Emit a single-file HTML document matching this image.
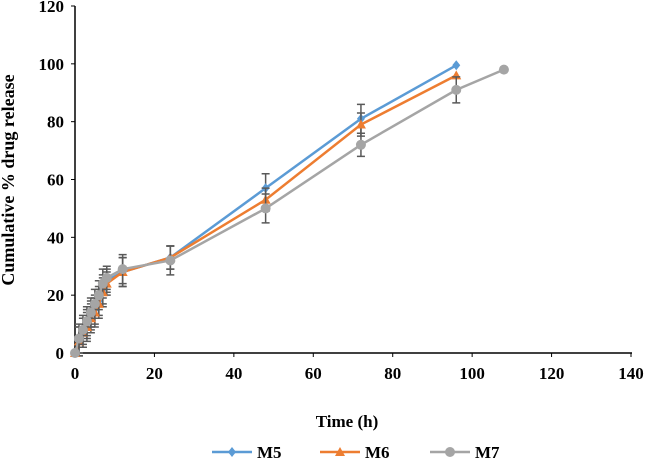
<!DOCTYPE html>
<html><head><meta charset="utf-8"><style>
body{margin:0;background:#fff}
svg text{font-family:"Liberation Serif",serif;font-weight:bold;fill:#000}
</style></head><body>
<svg id="chart" width="645" height="459" xmlns="http://www.w3.org/2000/svg"></svg>
<script>
const times5 = [0,1,2,3,4,5,6,7,8,12,24,48,72,96];
const m5 = [0,4,7,10,13,15,18,22,25,28,33,57,81,99.5];
const err5 = [0,5,5,5,5,5,5,5,4,5,4,5,5,0];
const m6 = [0,4,7,9,12,14,17,21,24,28,33,53,79,96];
const err6 = [0,5,5,5,5,5,5,5,4,5,4,4,4,0];
const times7 = [0,1,2,3,4,5,6,7,8,12,24,48,72,96,108];
const m7 = [0,5,8,11,14,17,20,24,26,29,32,50,72,91,98];
const err7 = [0,5,5,5,5,5,5,5,4,5,5,5,4,4.5,0];
const xTicks = [0,20,40,60,80,100,120,140];
const yTicks = [0,20,40,60,80,100,120];

const NS="http://www.w3.org/2000/svg";
const svg=document.getElementById('chart');
const X=v=>75+v*(631-75)/140;
const Y=v=>353-v*(353-6)/120;
function mk(t,a,p){const e=document.createElementNS(NS,t);for(const k in a)e.setAttribute(k,a[k]);(p||svg).appendChild(e);return e;}

let ax=mk('line',{x1:75,y1:6,x2:75,y2:354,stroke:'#000','stroke-width':1.5});


ax=mk('line',{x1:74,y1:353,x2:632,y2:353,stroke:'#000','stroke-width':1.5});


yTicks.forEach(v=>{
  mk('line',{x1:71,y1:Y(v),x2:75,y2:Y(v),stroke:'#000'});
  const t=mk('text',{x:64,y:Y(v)+6,'text-anchor':'end','font-size':17});t.textContent=v;
  
  
});
xTicks.forEach(v=>{
  mk('line',{x1:X(v),y1:353,x2:X(v),y2:357,stroke:'#000'});
  const t=mk('text',{x:X(v),y:379,'text-anchor':'middle','font-size':17});t.textContent=v;
  
  
});
let tt=mk('text',{x:0,y:0,'text-anchor':'middle','font-size':18,transform:'translate(14,180) rotate(-90)'});tt.textContent='Cumulative % drug release';


tt=mk('text',{x:347,y:427,'text-anchor':'middle','font-size':17});tt.textContent='Time (h)';



function series(xs,ys,errs,col,shape,name){
  const g=mk('g',{});
  
  
  mk('polyline',{points:xs.map((x,i)=>X(x)+','+Y(ys[i])).join(' '),fill:'none',stroke:col,'stroke-width':2.5},g);
  xs.forEach((x,i)=>{
    const e=errs[i]||0;
    if(e>0){
      mk('path',{d:`M${X(x)},${Y(ys[i]-e)}V${Y(ys[i]+e)}M${X(x)-4},${Y(ys[i]-e)}h8M${X(x)-4},${Y(ys[i]+e)}h8`,stroke:'#595959','stroke-width':1.5,fill:'none'},g);
    }
  });
  xs.forEach((x,i)=>marker(X(x),Y(ys[i]),col,shape,g));
}
function marker(cx,cy,col,shape,g){
  if(shape==='d')mk('polygon',{points:`${cx},${cy-5} ${cx+4},${cy} ${cx},${cy+5} ${cx-4},${cy}`,fill:col},g);
  else if(shape==='t')mk('polygon',{points:`${cx},${cy-5} ${cx+5},${cy+4} ${cx-5},${cy+4}`,fill:col},g);
  else mk('circle',{cx,cy,r:5,fill:col},g);
}
series(times5,m5,err5,'#5b9bd5','d','m5');
series(times5,m6,err6,'#ed7d31','t','m6');
series(times7,m7,err7,'#a5a5a5','c','m7');

const leg=[['M5','#5b9bd5','d',212],['M6','#ed7d31','t',320],['M7','#a5a5a5','c',430]];
leg.forEach(([n,c,s,x])=>{
  const g=mk('g',{});
  
  
  mk('line',{x1:x,y1:452,x2:x+40,y2:452,stroke:c,'stroke-width':2.5},g);
  marker(x+20,452,c,s,g);
  const t=mk('text',{x:x+45,y:458,'font-size':17},g);t.textContent=n;
});
</script>
</body></html>
